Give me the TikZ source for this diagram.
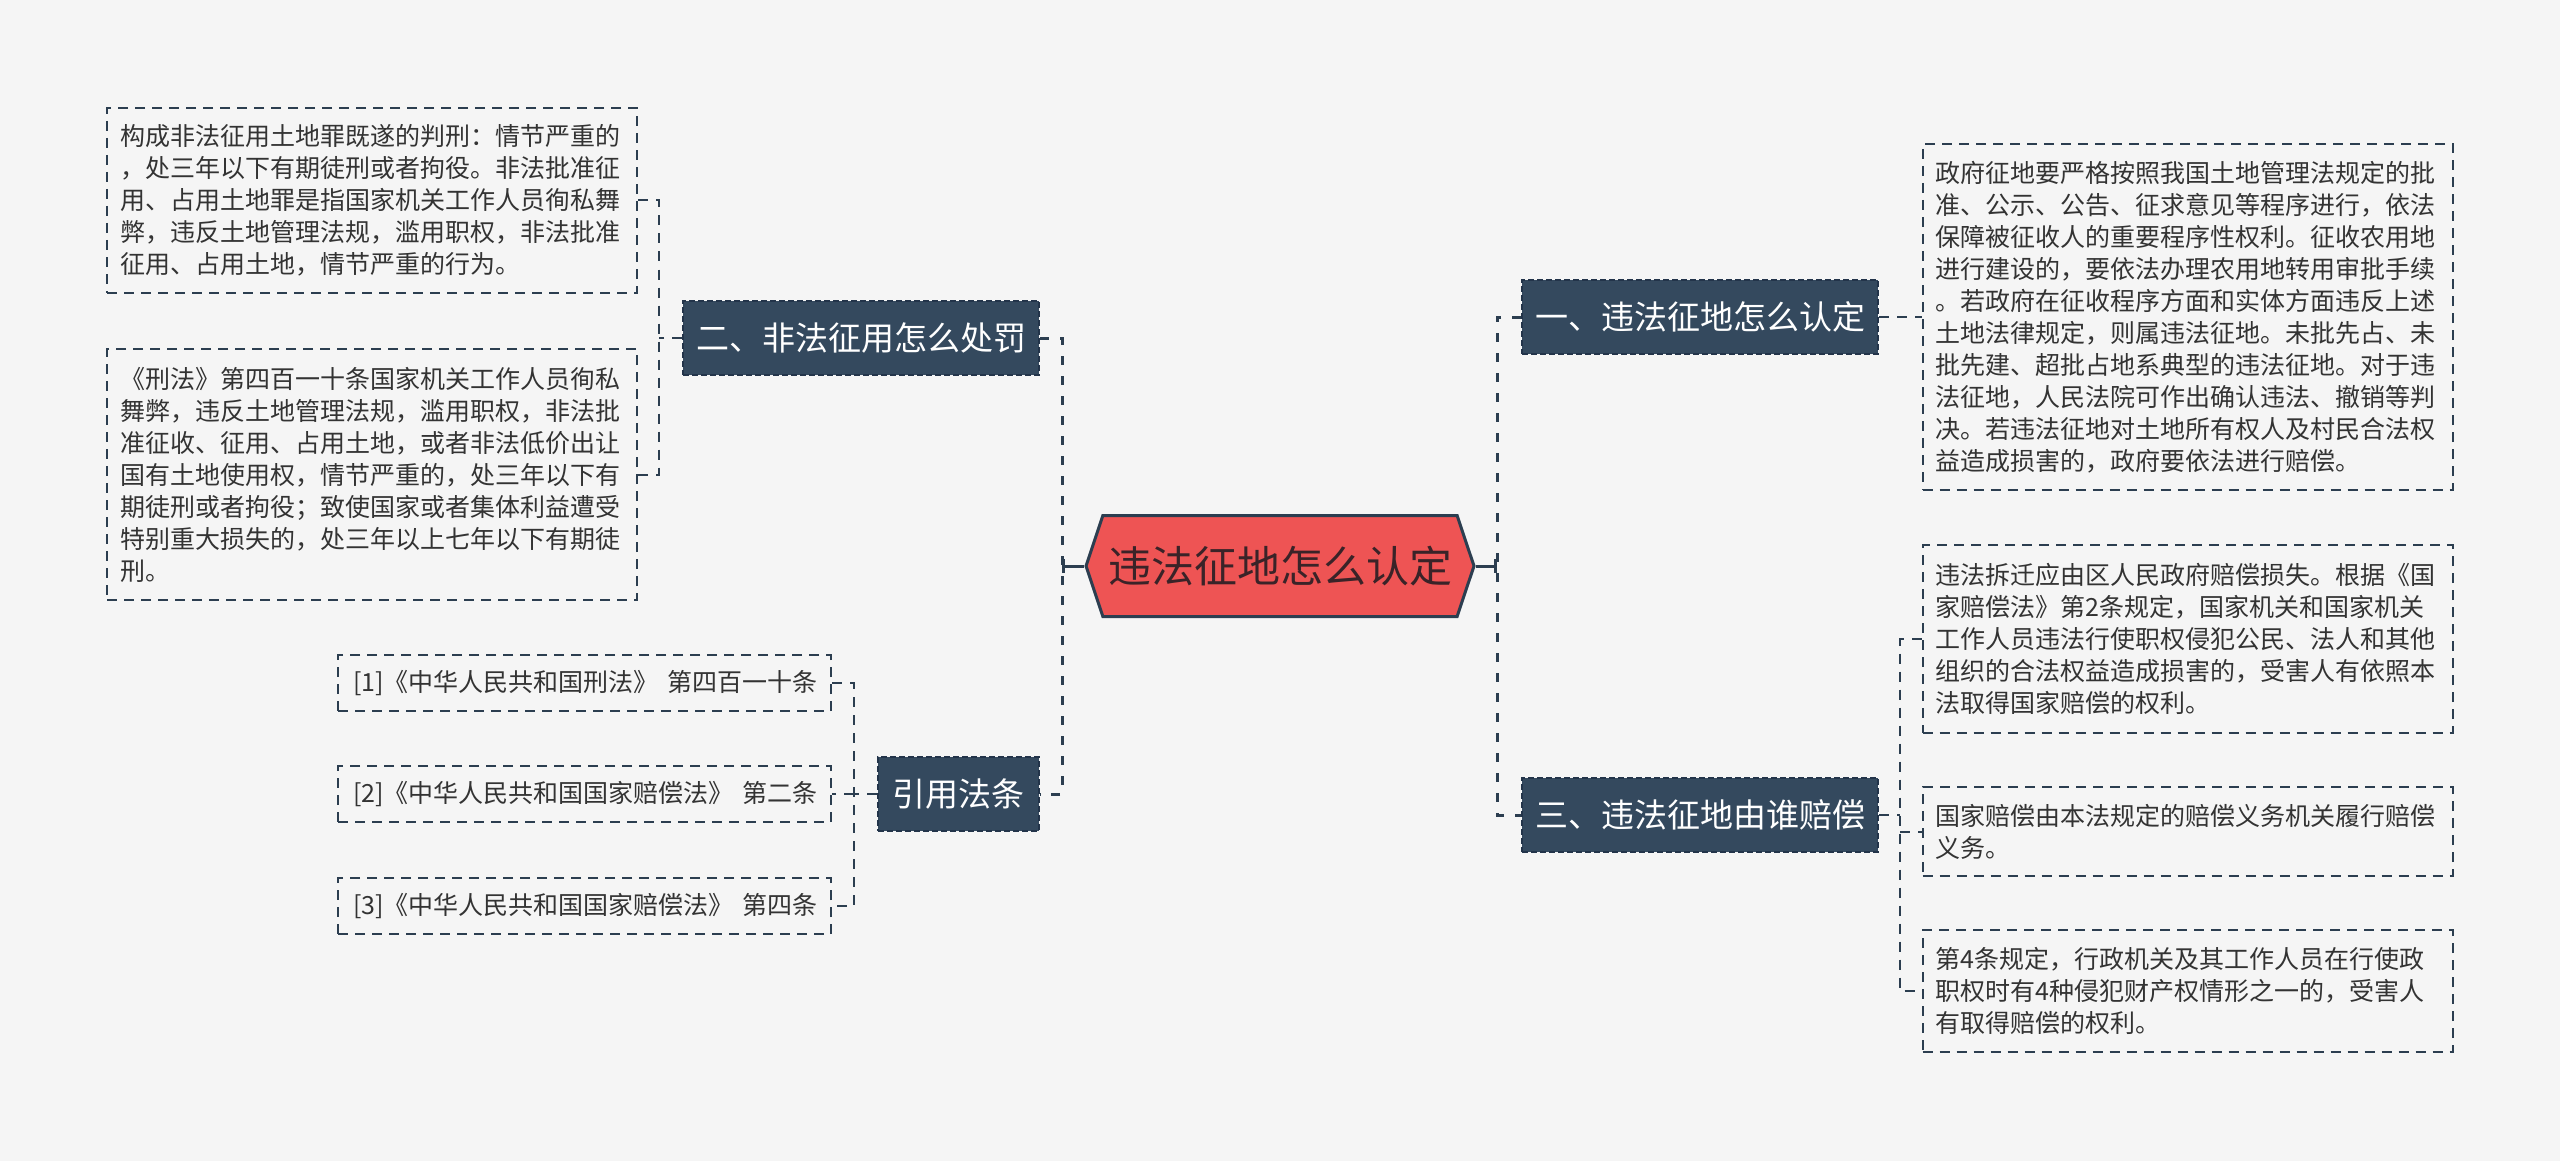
\documentclass[tikz,border=0pt]{standalone}
\usepackage{fontspec}
\setmainfont{Noto Sans CJK SC}
\usetikzlibrary{shapes.symbols,arrows.meta}

\definecolor{bgcol}{HTML}{F5F5F5}
\definecolor{linecol}{HTML}{2C3E50}
\definecolor{topicfill}{HTML}{34495E}
\definecolor{topicedge}{HTML}{23344A}
\definecolor{rootred}{HTML}{EE5454}
\definecolor{roottext}{HTML}{3A2328}
\definecolor{notetext}{HTML}{333333}

\begin{document}
\begin{tikzpicture}[x=1pt,y=-1pt,
  rootbox/.style={shape=signal, signal to=west and east, signal pointer angle=143,
    fill=rootred, draw=linecol, line width=3pt, minimum width=388pt,
    minimum height=101pt, inner sep=0pt, text=roottext,
    font=\fontsize{43}{48}\selectfont},
  topic/.style={fill=topicfill, draw=topicedge, line width=2pt,
    dash pattern=on 6pt off 3pt, text=white, minimum height=74pt,
    minimum width=356pt, inner xsep=0pt, font=\fontsize{33}{39}\selectfont},
  note/.style={draw=linecol, line width=2pt, dash pattern=on 10pt off 7pt,
    text=notetext, text width=504pt, inner xsep=13pt, align=left,
    font=\fontsize{25}{32}\selectfont},
  cite/.style={note, text width=463pt, inner xsep=15pt, minimum height=56pt},
  mainline/.style={draw=linecol, line width=3pt},
  trunk/.style={draw=linecol, line width=3pt, dash pattern=on 9pt off 11pt},
  twig/.style={draw=linecol, line width=2pt, dash pattern=on 10pt off 8pt}]

  \fill[bgcol] (0,0) rectangle (2560,1161);
  \useasboundingbox (0,0) rectangle (2560,1161);

  \node (root) [rootbox] at (1280,566) {\makebox[354pt]{违法征地怎么认定}};

  % right branches
  \node (b1) [topic] at (1700,317) {\makebox[330pt]{一、违法征地怎么认定}};
  \node (b3) [topic] at (1700,815) {\makebox[330pt]{三、违法征地由谁赔偿}};

  \node (t1) [note, minimum height=346pt] at (2187.5,317) {%
    政府征地要严格按照我国土地管理法规定的批\\
    准、公示、公告、征求意见等程序进行，依法\\
    保障被征收人的重要程序性权利。征收农用地\\
    进行建设的，要依法办理农用地转用审批手续\\
    。若政府在征收程序方面和实体方面违反上述\\
    土地法律规定，则属违法征地。未批先占、未\\
    批先建、超批占地系典型的违法征地。对于违\\
    法征地，人民法院可作出确认违法、撤销等判\\
    决。若违法征地对土地所有权人及村民合法权\\
    益造成损害的，政府要依法进行赔偿。};

  \node (t3a) [note, minimum height=188pt] at (2187.5,639) {%
    违法拆迁应由区人民政府赔偿损失。根据《国\\
    家赔偿法》第2条规定，国家机关和国家机关\\
    工作人员违法行使职权侵犯公民、法人和其他\\
    组织的合法权益造成损害的，受害人有依照本\\
    法取得国家赔偿的权利。};
  \node (t3b) [note, minimum height=89pt] at (2187.5,831.5) {%
    国家赔偿由本法规定的赔偿义务机关履行赔偿\\
    义务。};
  \node (t3c) [note, minimum height=122pt] at (2187.5,991) {%
    第4条规定，行政机关及其工作人员在行使政\\
    职权时有4种侵犯财产权情形之一的，受害人\\
    有取得赔偿的权利。};

  % left branches
  \node (b2) [topic] at (861,338) {\makebox[330pt]{二、非法征用怎么处罚}};
  \node (b4) [topic, minimum width=161pt] at (958,794) {引用法条};

  \node (t2a) [note, minimum height=185pt] at (372,200.5) {%
    构成非法征用土地罪既遂的判刑：情节严重的\\
    ，处三年以下有期徒刑或者拘役。非法批准征\\
    用、占用土地罪是指国家机关工作人员徇私舞\\
    弊，违反土地管理法规，滥用职权，非法批准\\
    征用、占用土地，情节严重的行为。};
  \node (t2b) [note, minimum height=251pt] at (372,474.5) {%
    《刑法》第四百一十条国家机关工作人员徇私\\
    舞弊，违反土地管理法规，滥用职权，非法批\\
    准征收、征用、占用土地，或者非法低价出让\\
    国有土地使用权，情节严重的，处三年以下有\\
    期徒刑或者拘役；致使国家或者集体利益遭受\\
    特别重大损失的，处三年以上七年以下有期徒\\
    刑。};

  \node (c1) [cite] at (584.5,683) {\mbox{[1]《中华人民共和国刑法》 第四百一十条}};
  \node (c2) [cite] at (584.5,794) {\mbox{[2]《中华人民共和国国家赔偿法》 第二条}};
  \node (c3) [cite] at (584.5,906) {\mbox{[3]《中华人民共和国国家赔偿法》 第四条}};

  % connectors, right
  \coordinate (rjoin) at (1497,566);
  \draw[mainline,-{Bar[width=14pt]}] (root.east) -- (rjoin);
  \draw[trunk] (b1.west) -- (b1.west -| rjoin) -- (b3.west -| rjoin) -- (b3.west);
  \draw[twig] (b1.east) -- (t1.west);

  \coordinate (r3join) at (1900,815);
  \draw[twig] (b3.east) -- (r3join);
  \draw[twig] (t3a.west) -- (t3a.west -| r3join) -- (t3c.west -| r3join) -- (t3c.west);
  \draw[twig] (t3b.west -| r3join) -- (t3b.west);

  % connectors, left
  \coordinate (ljoin) at (1062,566);
  \draw[mainline,-{Bar[width=14pt]}] (root.west) -- (ljoin);
  \draw[trunk] (b2.east) -- (b2.east -| ljoin) -- (b4.east -| ljoin) -- (b4.east);

  \coordinate (l2join) at (659,338);
  \draw[twig] (b2.west) -- (l2join);
  \draw[twig] (t2a.east) -- (t2a.east -| l2join) -- (t2b.east -| l2join) -- (t2b.east);

  \coordinate (l4join) at (854,794);
  \draw[twig] (b4.west) -- (l4join);
  \draw[twig] (c1.east) -- (c1.east -| l4join) -- (c3.east -| l4join) -- (c3.east);
  \draw[twig] (c2.east -| l4join) -- (c2.east);
\end{tikzpicture}
\end{document}
